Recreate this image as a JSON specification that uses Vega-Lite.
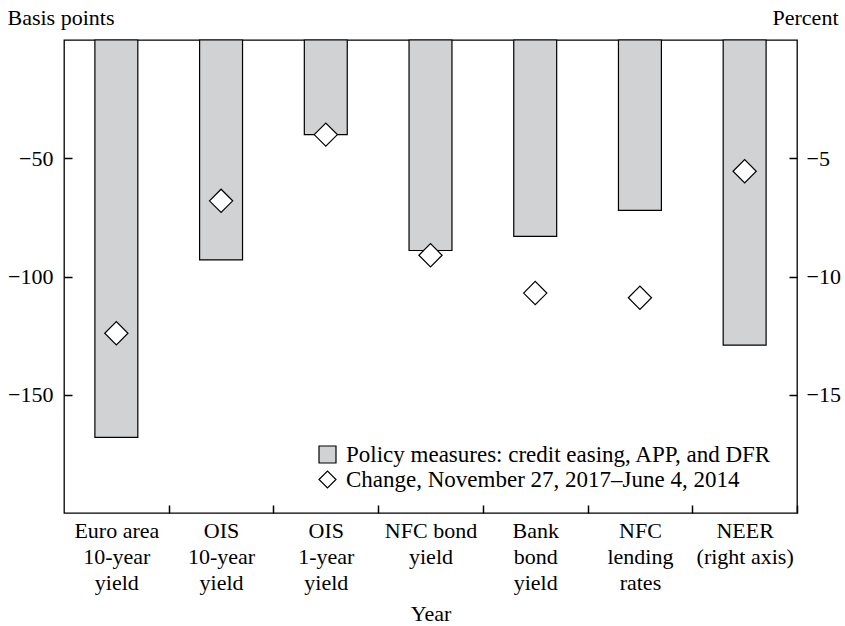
{
  "$schema": "https://vega.github.io/schema/vega-lite/v6.json",
  "width": 733,
  "height": 473,
  "autosize": "none",
  "padding": {"left": 64, "top": 40, "right": 48, "bottom": 113},
  "background": "white",
  "config": {
    "font": "Liberation Serif",
    "view": {"stroke": "black", "strokeWidth": 1.3},
    "axis": {
      "labelFont": "Liberation Serif",
      "titleFont": "Liberation Serif",
      "labelFontSize": 22,
      "titleFontSize": 22,
      "titleFontWeight": "normal",
      "labelColor": "black",
      "titleColor": "black",
      "tickColor": "black",
      "domain": false,
      "grid": false,
      "tickSize": 8,
      "offset": -8,
      "tickWidth": 1.5
    },
    "legend": {
      "labelFont": "Liberation Serif",
      "labelFontSize": 23,
      "labelColor": "black",
      "labelLimit": 0,
      "symbolStrokeColor": "black",
      "symbolStrokeWidth": 1.2,
      "symbolSize": 289
    }
  },
  "data": {
    "values": [
      {"category": "Euro area\n10-year\nyield", "unit": "bp", "series": "Policy measures: credit easing, APP, and DFR", "value": -168},
      {"category": "OIS\n10-year\nyield", "unit": "bp", "series": "Policy measures: credit easing, APP, and DFR", "value": -93},
      {"category": "OIS\n1-year\nyield", "unit": "bp", "series": "Policy measures: credit easing, APP, and DFR", "value": -40},
      {"category": "NFC bond\nyield", "unit": "bp", "series": "Policy measures: credit easing, APP, and DFR", "value": -89},
      {"category": "Bank\nbond\nyield", "unit": "bp", "series": "Policy measures: credit easing, APP, and DFR", "value": -83},
      {"category": "NFC\nlending\nrates", "unit": "bp", "series": "Policy measures: credit easing, APP, and DFR", "value": -72},
      {"category": "NEER\n(right axis)", "unit": "pct", "series": "Policy measures: credit easing, APP, and DFR", "value": -12.9},
      {"category": "Euro area\n10-year\nyield", "unit": "bp", "series": "Change, November 27, 2017–June 4, 2014", "value": -124},
      {"category": "OIS\n10-year\nyield", "unit": "bp", "series": "Change, November 27, 2017–June 4, 2014", "value": -68},
      {"category": "OIS\n1-year\nyield", "unit": "bp", "series": "Change, November 27, 2017–June 4, 2014", "value": -40},
      {"category": "NFC bond\nyield", "unit": "bp", "series": "Change, November 27, 2017–June 4, 2014", "value": -91},
      {"category": "Bank\nbond\nyield", "unit": "bp", "series": "Change, November 27, 2017–June 4, 2014", "value": -107},
      {"category": "NFC\nlending\nrates", "unit": "bp", "series": "Change, November 27, 2017–June 4, 2014", "value": -109},
      {"category": "NEER\n(right axis)", "unit": "pct", "series": "Change, November 27, 2017–June 4, 2014", "value": -5.55}
    ]
  },
  "encoding": {
    "x": {
      "field": "category",
      "type": "nominal",
      "sort": ["Euro area\n10-year\nyield", "OIS\n10-year\nyield", "OIS\n1-year\nyield", "NFC bond\nyield", "Bank\nbond\nyield", "NFC\nlending\nrates", "NEER\n(right axis)"],
      "scale": {"paddingInner": 0.59, "paddingOuter": 0.295},
      "axis": {
        "title": "Year",
        "labelAngle": 0,
        "labelExpr": "split(datum.label, '\\n')",
        "labelLineHeight": 26,
        "labelPadding": 7,
        "labelBaseline": "top",
        "tickOffset": 52.357,
        "labelOffset": -52.357,
        "titlePadding": 10
      }
    }
  },
  "layer": [
    {
      "transform": [{"filter": "datum.unit == 'bp'"}],
      "encoding": {
        "y": {
          "field": "value",
          "type": "quantitative",
          "scale": {"domain": [-200, 0], "nice": false, "zero": false},
          "axis": {
            "orient": "left",
            "values": [-150, -100, -50],
            "title": "Basis points",
            "titleAngle": 0,
            "titleAlign": "left",
            "titleBaseline": "alphabetic",
            "titleX": -65,
            "titleY": -16,
            "labelPadding": 11
          }
        }
      },
      "layer": [
        {
          "transform": [{"filter": "datum.series == 'Policy measures: credit easing, APP, and DFR'"}],
          "mark": {"type": "bar", "stroke": "black", "strokeWidth": 1.2},
          "encoding": {
            "fill": {
              "field": "series",
              "type": "nominal",
              "scale": {"domain": ["Policy measures: credit easing, APP, and DFR", "Change, November 27, 2017–June 4, 2014"], "range": ["#d1d2d4", "white"]},
              "legend": {"title": null, "orient": "none", "legendX": 252, "legendY": 403, "labelOffset": 7, "rowPadding": 1}
            }
          }
        },
        {
          "transform": [{"filter": "datum.series != 'Policy measures: credit easing, APP, and DFR'"}],
          "mark": {"type": "point", "filled": true, "opacity": 1, "stroke": "black", "strokeWidth": 1.2, "size": 540},
          "encoding": {
            "fill": {"field": "series", "type": "nominal"},
            "shape": {
              "field": "series",
              "type": "nominal",
              "scale": {"domain": ["Policy measures: credit easing, APP, and DFR", "Change, November 27, 2017–June 4, 2014"], "range": ["square", "diamond"]},
              "legend": {"title": null, "orient": "none", "legendX": 252, "legendY": 403, "labelOffset": 7, "rowPadding": 1}
            }
          }
        }
      ]
    },
    {
      "transform": [{"filter": "datum.unit == 'pct'"}],
      "encoding": {
        "y": {
          "field": "value",
          "type": "quantitative",
          "scale": {"domain": [-20, 0], "nice": false, "zero": false},
          "axis": {
            "orient": "right",
            "values": [-15, -10, -5],
            "title": "Percent",
            "titleAngle": 0,
            "titleAlign": "right",
            "titleBaseline": "alphabetic",
            "titleX": 49,
            "titleY": -16,
            "labelPadding": 9
          }
        }
      },
      "layer": [
        {
          "transform": [{"filter": "datum.series == 'Policy measures: credit easing, APP, and DFR'"}],
          "mark": {"type": "bar", "stroke": "black", "strokeWidth": 1.2},
          "encoding": {"fill": {"field": "series", "type": "nominal"}}
        },
        {
          "transform": [{"filter": "datum.series != 'Policy measures: credit easing, APP, and DFR'"}],
          "mark": {"type": "point", "filled": true, "opacity": 1, "stroke": "black", "strokeWidth": 1.2, "size": 540},
          "encoding": {
            "fill": {"field": "series", "type": "nominal"},
            "shape": {"field": "series", "type": "nominal"}
          }
        }
      ]
    }
  ],
  "resolve": {"scale": {"y": "independent"}}
}
